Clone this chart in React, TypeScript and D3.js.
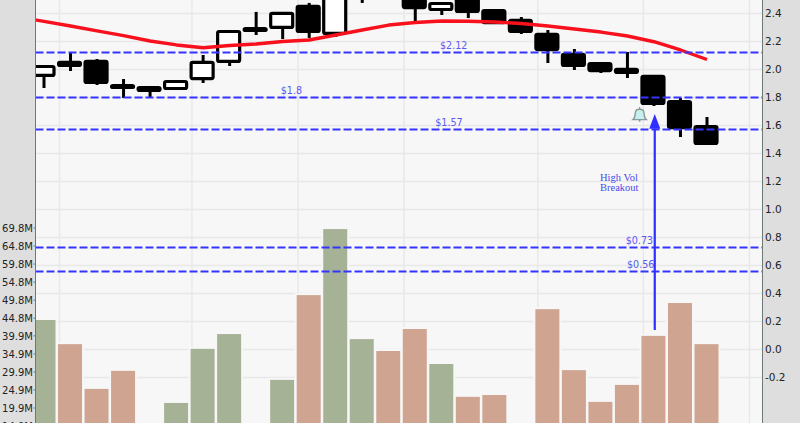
import React from "react";
import * as d3 from "d3";

const W = 800;
const H = 423;

const opens = [1.956, 2.049, 2.056, 1.884, 1.87, 1.863, 1.934, 2.056, 2.291, 2.299, 2.449, 2.256, 2.56, 2.62, 2.6, 2.427, 2.55, 2.42, 2.349, 2.249, 2.106, 2.041, 1.999, 1.949, 1.77, 1.591];
const closes = [2.02, 2.027, 1.906, 1.87, 1.849, 1.913, 2.049, 2.27, 2.277, 2.399, 2.27, 2.6, 2.66, 2.56, 2.441, 2.47, 2.413, 2.334, 2.27, 2.141, 2.027, 1.991, 1.977, 1.756, 1.584, 1.47];
const highs = [2.02, 2.124, 2.074, 1.931, 1.87, 1.913, 2.102, 2.27, 2.41, 2.399, 2.474, 2.62, 2.7, 2.7, 2.62, 2.47, 2.56, 2.42, 2.373, 2.281, 2.145, 2.041, 2.124, 1.949, 1.795, 1.659];
const lows = [1.866, 1.988, 1.888, 1.795, 1.802, 1.863, 1.902, 2.024, 2.245, 2.216, 2.224, 2.231, 2.474, 2.53, 2.345, 2.388, 2.366, 2.334, 2.252, 2.045, 1.995, 1.974, 1.938, 1.738, 1.517, 1.47];
const volumes = [44.3, 37.6, 25.2, 30.2, 12, 21.3, 36.3, 40.4, 12, 27.7, 51.2, 69.5, 39.0, 35.7, 41.8, 32.1, 23.0, 23.5, 12, 47.3, 30.4, 21.6, 26.3, 39.9, 49.0, 37.6];
const volumeUp = [true, false, false, false, false, true, true, true, false, true, false, true, true, false, false, true, false, false, false, false, false, false, false, false, false, false];
// Moving average, starting one session before the first visible candle.
const movingAvg = [2.374, 2.342, 2.309, 2.274, 2.241, 2.202, 2.174, 2.154, 2.17, 2.181, 2.199, 2.209, 2.245, 2.281, 2.316, 2.334, 2.345, 2.343, 2.338, 2.327, 2.309, 2.288, 2.266, 2.238, 2.197, 2.138, 2.07];

const priceTicks = [2.4, 2.2, 2.0, 1.8, 1.6, 1.4, 1.2, 1.0, 0.8, 0.6, 0.4, 0.2, 0.0, -0.2];
const volumeTickValues = [69.8, 64.8, 59.8, 54.8, 49.8, 44.8, 39.9, 34.9, 29.9, 24.9, 19.9, 14.9];
const verticalGridSessions = [0.585, 5.58, 9.58, 13.58, 18.62, 22.6, 26.6];

const levels = [
  { price: 2.12, label: "$2.12", at: 15.45 },
  { price: 1.8, label: "$1.8", at: 9.33 },
  { price: 1.57, label: "$1.57", at: 15.27 },
  { price: 0.73, label: "$0.73", at: 22.45 },
  { price: 0.56, label: "$0.56", at: 22.5 },
];

const arrowSession = 23.03;
const arrowTipPrice = 1.68;
const arrowBasePrice = 1.575;
const arrowTailPrice = 0.138;
const bellSession = 22.46;
const bellPrice = 1.675;

const plotLeft = 35.5;
const plotRight = 762.5;

const x = d3.scaleLinear().domain([0, 25]).range([44, 707]);
const y = d3.scaleLinear().domain([0, 2.4]).range([349.3, 13.3]);
const vy = d3.scaleLinear().domain([69.8, 19.9]).range([228, 408]);

const maLine = d3
  .line<number>()
  .x((_, i) => x(i - 1))
  .y((d) => y(d));

const AXIS_FONT = "'DejaVu Sans', sans-serif";
const BG = "#dedede";
const PLOT = "#f7f7f7";
const GRID = "#e8e8e8";
const AXIS = "#6e7876";
const LEVEL = "#3434ff";

export default function App() {
  const tipY = y(arrowTipPrice);
  const baseY = y(arrowBasePrice);
  const ax = x(arrowSession);
  const bx = x(bellSession);
  const by = y(bellPrice);
  return (
    <svg
      width={W}
      height={H}
      viewBox={`0 0 ${W} ${H}`}
      style={{ position: "absolute", left: 0, top: 0, display: "block" }}
    >
      <defs>
        <clipPath id="plot">
          <rect x={plotLeft} y={0} width={plotRight - plotLeft} height={H} />
        </clipPath>
      </defs>
      <rect x={0} y={0} width={W} height={H} fill={BG} />
      <rect x={plotLeft} y={0} width={plotRight - plotLeft} height={H} fill={PLOT} />

      <g clipPath="url(#plot)">
        {priceTicks.map((t) => (
          <line key={t} x1={plotLeft} x2={plotRight} y1={Math.round(y(t)) + 0.5} y2={Math.round(y(t)) + 0.5} stroke={GRID} strokeWidth={1.4} />
        ))}
        {verticalGridSessions.map((s) => (
          <line key={s} x1={x(s)} x2={x(s)} y1={0} y2={H} stroke={GRID} strokeWidth={1.4} />
        ))}

        {volumes.map((v, i) => (
          <rect
            key={i}
            x={x(i) - 13.5}
            y={vy(v) - 1}
            width={26}
            height={H - vy(v) + 6}
            fill={volumeUp[i] ? "#a6b296" : "#cfa592"}
            stroke={PLOT}
            strokeWidth={2}
          />
        ))}

        {opens.map((o, i) => {
          const c = closes[i];
          const up = c > o;
          const top = y(Math.max(o, c));
          const bot = y(Math.min(o, c));
          return (
            <g key={i}>
              <line x1={x(i)} x2={x(i)} y1={y(highs[i])} y2={y(lows[i])} stroke="#000" strokeWidth={3} />
              <rect
                x={x(i) - 12}
                y={top}
                width={22}
                height={bot - top}
                rx={1.5}
                fill={up ? "#fff" : "#000"}
                stroke="#000"
                strokeWidth={3.2}
              />
            </g>
          );
        })}

        <path d={maLine(movingAvg) ?? ""} fill="none" stroke="#f8101c" strokeWidth={3.4} strokeLinejoin="round" />

        {levels.map((l) => {
          const ly = Math.floor(y(l.price) + 0.1) + 0.5;
          return (
            <g key={l.label}>
              <line x1={plotLeft} x2={plotRight} y1={ly} y2={ly} stroke={LEVEL} strokeWidth={1.8} strokeDasharray="8 3" />
              <text x={x(l.at)} y={ly - 3.5} textAnchor="middle" fontFamily={AXIS_FONT} fontSize={9.6} fill="#5a5af0">
                {l.label}
              </text>
            </g>
          );
        })}

        <line x1={ax} x2={ax} y1={baseY} y2={y(arrowTailPrice)} stroke="#2f2fff" strokeWidth={2.2} />
        <path d={`M${ax},${tipY} L${ax + 5.5},${baseY} L${ax - 5.5},${baseY} Z`} fill="#2f2fff" />

        <g transform={`translate(${bx},${by}) scale(1.2)`}>
          <path
            d="M-5.5,4 C-3.8,2.6 -3.8,-0.5 -3.5,-2.2 C-3.2,-4 -1.8,-4.6 0,-4.6 C1.8,-4.6 3.2,-4 3.5,-2.2 C3.8,-0.5 3.8,2.6 5.5,4 Z"
            fill="#c6f0ee"
            stroke="#8c9a9a"
            strokeWidth={1.2}
          />
          <line x1={0} x2={0} y1={-6.5} y2={-4.6} stroke="#8c9a9a" strokeWidth={1} />
          <line x1={0} x2={0} y1={4} y2={5.8} stroke="#8c9a9a" strokeWidth={1.4} />
        </g>

        <text fontFamily="'Liberation Serif', serif" fontSize={10.5} fill="#4a4aee">
          <tspan x={600} y={181}>High Vol</tspan>
          <tspan x={600} y={191}>Breakout</tspan>
        </text>
      </g>

      <line x1={plotLeft} x2={plotLeft} y1={0} y2={H} stroke={AXIS} strokeWidth={1} />
      <line x1={plotRight} x2={plotRight} y1={0} y2={H} stroke={AXIS} strokeWidth={1} />

      {priceTicks.map((t) => (
        <text key={t} x={765} y={y(t) + 4} fontFamily={AXIS_FONT} fontSize={10.5} fill="#222">
          {t.toFixed(1)}
        </text>
      ))}
      {volumeTickValues.map((v) => (
        <g key={v}>
          <line x1={33.5} x2={35} y1={vy(v)} y2={vy(v)} stroke={AXIS} strokeWidth={1} />
          <text x={33} y={vy(v) + 4} textAnchor="end" fontFamily={AXIS_FONT} fontSize={10} fill="#222">
            {`${v.toFixed(1)}M`}
          </text>
        </g>
      ))}
    </svg>
  );
}
